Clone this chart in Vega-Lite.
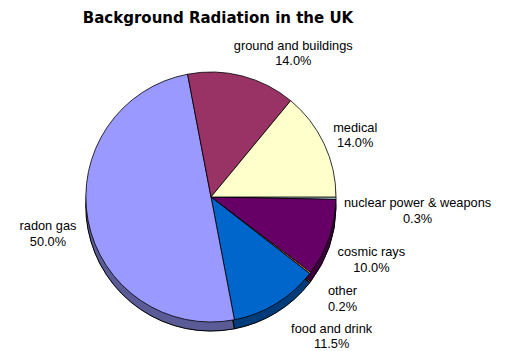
{
  "$schema": "https://vega.github.io/schema/vega-lite/v6.json",
  "autosize": {"type": "none"},
  "width": 250,
  "height": 250,
  "padding": {"left": 86, "top": 72, "right": 172, "bottom": 29},
  "background": "white",
  "title": {
    "text": "Background Radiation in the UK",
    "font": "DejaVu Sans",
    "fontSize": 15,
    "fontWeight": "bold",
    "color": "black",
    "anchor": "middle",
    "dx": 7,
    "offset": 14
  },
  "config": {"view": {"stroke": null}},
  "data": {
    "values": [
      {"category": "nuclear power & weapons", "value": 0.3, "o": 1, "label": "nuclear power & weapons\n0.3%"},
      {"category": "cosmic rays", "value": 10.0, "o": 2, "label": "cosmic rays\n10.0%"},
      {"category": "other", "value": 0.2, "o": 3, "label": "other\n0.2%"},
      {"category": "food and drink", "value": 11.5, "o": 4, "label": "food and drink\n11.5%"},
      {"category": "radon gas", "value": 50.0, "o": 5, "label": "radon gas\n50.0%"},
      {"category": "ground and buildings", "value": 14.0, "o": 6, "label": "ground and buildings\n14.0%"},
      {"category": "medical", "value": 14.0, "o": 7, "label": "medical\n14.0%"}
    ]
  },
  "transform": [
    {"stack": "value", "groupby": [], "sort": [{"field": "o", "order": "ascending"}], "as": ["s0", "s1"]}
  ],
  "layer": [
    {
      "mark": {"type": "arc", "yOffset": 9, "stroke": "black", "strokeWidth": 1},
      "encoding": {
        "theta": {"field": "s0", "type": "quantitative", "scale": {"domain": [0, 100], "range": [1.5708, 7.854]}},
        "theta2": {"field": "s1"},
        "color": {
          "field": "category", "type": "nominal", "legend": null,
          "scale": {
            "domain": ["radon gas", "ground and buildings", "medical", "nuclear power & weapons", "cosmic rays", "other", "food and drink"],
            "range": ["#9999FF", "#993366", "#FFFFCC", "#CCFFFF", "#660066", "#FF8040", "#0066CC"]
          }
        }
      }
    },
    {
      "mark": {"type": "arc", "yOffset": 9, "fill": "black", "opacity": 0.4, "stroke": "black", "strokeWidth": 1},
      "encoding": {
        "theta": {"field": "s0", "type": "quantitative"},
        "theta2": {"field": "s1"}
      }
    },
    {
      "mark": {"type": "arc", "stroke": "black", "strokeWidth": 0.8},
      "encoding": {
        "theta": {"field": "s0", "type": "quantitative"},
        "theta2": {"field": "s1"},
        "color": {"field": "category", "type": "nominal", "legend": null}
      }
    },
    {
      "transform": [{"filter": "datum.o === 1"}],
      "mark": {"type": "text", "radius": 207, "thetaOffset": 0.0646, "dy": -7, "font": "Liberation Sans", "fontSize": 12.8, "lineHeight": 15.5, "lineBreak": "\n", "align": "center", "baseline": "middle", "color": "black"},
      "encoding": {"theta": {"field": "s0", "type": "quantitative"}, "text": {"field": "label"}}
    },
    {
      "transform": [{"filter": "datum.o === 2"}],
      "mark": {"type": "text", "radius": 172, "thetaOffset": 0.351, "dy": -7, "font": "Liberation Sans", "fontSize": 12.8, "lineHeight": 15.5, "lineBreak": "\n", "align": "center", "baseline": "middle", "color": "black"},
      "encoding": {"theta": {"field": "s0", "type": "quantitative"}, "text": {"field": "label"}}
    },
    {
      "transform": [{"filter": "datum.o === 3"}],
      "mark": {"type": "text", "radius": 166, "thetaOffset": 0.009, "dy": -7, "font": "Liberation Sans", "fontSize": 12.8, "lineHeight": 15.5, "lineBreak": "\n", "align": "center", "baseline": "middle", "color": "black"},
      "encoding": {"theta": {"field": "s0", "type": "quantitative"}, "text": {"field": "label"}}
    },
    {
      "transform": [{"filter": "datum.o === 4"}],
      "mark": {"type": "text", "radius": 185, "thetaOffset": 0.2007, "dy": -8.5, "font": "Liberation Sans", "fontSize": 12.8, "lineHeight": 15.5, "lineBreak": "\n", "align": "center", "baseline": "middle", "color": "black"},
      "encoding": {"theta": {"field": "s0", "type": "quantitative"}, "text": {"field": "label"}}
    },
    {
      "transform": [{"filter": "datum.o === 5"}],
      "mark": {"type": "text", "radius": 167, "thetaOffset": 1.541, "dy": -7, "font": "Liberation Sans", "fontSize": 12.8, "lineHeight": 15.5, "lineBreak": "\n", "align": "center", "baseline": "middle", "color": "black"},
      "encoding": {"theta": {"field": "s0", "type": "quantitative"}, "text": {"field": "label"}}
    },
    {
      "transform": [{"filter": "datum.o === 6"}],
      "mark": {"type": "text", "radius": 166, "thetaOffset": 0.707, "dy": -7, "font": "Liberation Sans", "fontSize": 12.8, "lineHeight": 15.5, "lineBreak": "\n", "align": "center", "baseline": "middle", "color": "black"},
      "encoding": {"theta": {"field": "s0", "type": "quantitative"}, "text": {"field": "label"}}
    },
    {
      "transform": [{"filter": "datum.o === 7"}],
      "mark": {"type": "text", "radius": 157, "thetaOffset": 0.473, "dy": -7, "font": "Liberation Sans", "fontSize": 12.8, "lineHeight": 15.5, "lineBreak": "\n", "align": "center", "baseline": "middle", "color": "black"},
      "encoding": {"theta": {"field": "s0", "type": "quantitative"}, "text": {"field": "label"}}
    }
  ]
}
